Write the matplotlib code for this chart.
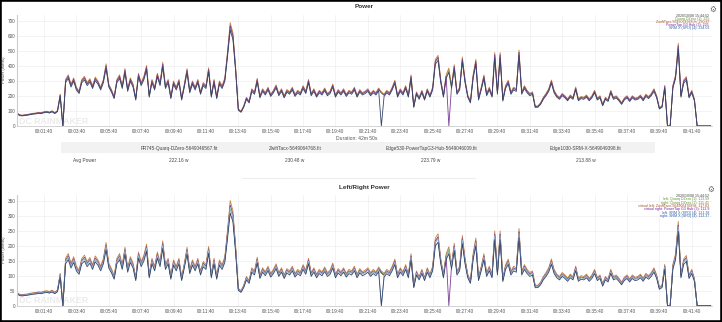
import numpy as np
import matplotlib
matplotlib.use('Agg')
import matplotlib.pyplot as plt
from matplotlib.patches import Rectangle

plt.rcParams['font.family'] = ['Liberation Sans', 'DejaVu Sans']

# Power, one value every 10 s (each row = one minute)
power_base = [
    85, 72, 70, 73, 75, 79,
    82, 84, 88, 86, 92, 95,
    90, 98, 86, 100, 205, 0,
    300, 330, 270, 310, 250, 225,
    300, 320, 280, 305, 260, 315,
    290, 250, 300, 400, 270, 235,
    190, 300, 330, 260, 370, 240,
    310, 270, 180, 340, 280, 320,
    390, 200, 300, 250, 340, 280,
    410, 260, 300, 190, 290, 250,
    300, 180, 270, 370, 230, 290,
    250, 300, 220, 280, 260, 375,
    200, 300, 190, 290, 260, 310,
    480, 665, 600, 380, 110, 95,
    130, 185, 160, 240, 220, 307,
    195, 240, 215, 250, 205, 230,
    265, 210, 240, 195, 235, 220,
    250, 205, 230, 215, 260, 225,
    300, 210, 240, 200, 230, 215,
    245, 210, 225, 270, 200, 235,
    215, 240, 205, 230, 220, 250,
    200, 235, 215, 225, 240, 210,
    230, 215, 245, 220, 205, 230,
    215, 250, 295, 200, 240, 215,
    260, 200, 329, 129, 220, 185,
    230, 180, 240, 200, 250, 429,
    455, 300, 200, 330, 373, 262,
    395, 220, 250, 444, 300, 200,
    160, 330, 429, 180, 250, 329,
    210, 250, 200, 473, 220, 473,
    173, 260, 295, 220, 250, 240,
    489, 220, 260, 230, 210, 220,
    129, 130, 150, 185, 210, 240,
    296, 230, 200, 185, 210, 195,
    175, 200, 185, 251, 175, 190,
    185, 200, 175, 195, 230, 180,
    195, 140, 185, 170, 230, 185,
    195, 175, 150, 180, 195, 170,
    195, 180, 185, 200, 175, 205,
    190, 210, 240, 195, 118, 130,
    262, 0, 0, 262, 329, 533,
    200, 296, 318, 195, 230, 173,
    0, 0, 0, 0, 0, 0,
]
step_s = 10

# devices (from the summary table)
files = ['FR745-Quarq-DZero-5649046567.fit', 'ZwiftTacx-5649064768.fit',
         'Edge530-PowerTapG3-Hub-5649046009.fit', 'Edge1030-SRM-X-5649049398.fit']
avg_power = [222.16, 230.48, 223.79, 213.88]
dev_colors = ['#7cb342', '#c8803c', '#7d3c98', '#34466a']
dev_dropouts = [[], [], [1600], [1350]]

legend_top = ['Quarq DZero (1): 225', 'ZwiftTacx-5649064768.fit: 230.87',
              'PowerTap G3 Hub (3): 225', 'SRM X (SPD) (4): 234.03']
legend_top_colors = ['#5f9a2c', '#a0522d', '#7b1fa2', '#2e5fa3']

# left/right channels: (device index, share of total)
lr_labels = ['left: Quarq DZero (1): 113.59', 'right: Quarq DZero (1): 111.41',
             'virtual left: ZwiftTacx-5649064768.fit: 117.83',
             'virtual right: PowerTap G3 Hub (3): 112.9',
             'left: SRM X (SPD) (4): 121.38', 'right: SRM X (SPD) (4): 113.37']
lr_device = [0, 0, 1, 2, 3, 3]
lr_share = [0.505, 0.495, 0.51, 0.502, 0.515, 0.485]
lr_colors = ['#7cb342', '#4f8a2a', '#c8803c', '#7d3c98', '#9dbbd6', '#34466a']
lr_text_colors = ['#5f9a2c', '#5f9a2c', '#a0522d', '#7b1fa2', '#2e5fa3', '#2e5fa3']

timestamp = '2020/10/08 15:44:52'
x_ticks = list(range(100, 2501, 120))
x_max = 2575

W, H = 722, 322
fig = plt.figure(figsize=(W / 100, H / 100), dpi=100)

t = np.arange(len(power_base)) * step_s
base = np.array(power_base, dtype=float)


def device_series(i):
    s = base * avg_power[i] / np.mean(avg_power)
    for d in dev_dropouts[i]:
        s[t == d] = 0
    return s


def fmt_time(s):
    return '%02d:%02d:%02d' % (s // 3600, (s % 3600) // 60, s % 60)


def fx(px):
    return px / W


def fy(py):
    return 1 - py / H


def style_axes(ax, ymax, ystep, label_y):
    ax.set_xlim(0, x_max)
    ax.set_ylim(0, ymax)
    ax.set_xticks(x_ticks)
    ax.set_xticklabels([fmt_time(v) for v in x_ticks])
    ax.set_yticks(np.arange(0, ymax, ystep))
    ax.tick_params(length=0, labelsize=3.4, colors='#555555', pad=2.5)
    ax.tick_params(axis='y', pad=1.2)
    ax.grid(True, color='#eeeeee', lw=0.5)
    ax.set_axisbelow(True)
    for sp in ['top', 'right']:
        ax.spines[sp].set_visible(False)
    ax.spines['left'].set_color('#cccccc')
    ax.spines['bottom'].set_color('#cccccc')
    ax.spines['left'].set_linewidth(0.8)
    ax.spines['bottom'].set_linewidth(0.6)
    fig.text(fx(3.6), fy(label_y), 'Power (watts)', rotation=90, ha='center',
             va='center', fontsize=3.2, color='#555555')
    ax.text(0.003, 0.02, 'DC RAINMAKER', transform=ax.transAxes, fontsize=6.3,
            fontweight='bold', color='#ebebeb', zorder=0)


# ---- top: Power ----
ax1 = fig.add_axes([fx(17), fy(126), fx(695), 111 / H])
style_axes(ax1, 740, 100, 70)
for i in range(len(files)):
    ax1.plot(t, device_series(i), color=dev_colors[i], lw=0.6)

fig.text(fx(364), fy(7), 'Power', ha='center', va='center', fontsize=4.6,
         fontweight='bold', color='#333333')
fig.text(fx(712.5), fy(9), '\u2699', ha='center', va='center', fontsize=5.5,
         color='#666666', family='DejaVu Sans')
fig.text(fx(709), fy(15.7), timestamp, ha='right', va='center', fontsize=2.6,
         color='#444444')
for k, (lab, c) in enumerate(zip(legend_top, legend_top_colors)):
    fig.text(fx(709), fy(18.9 + 3.2 * k), lab, ha='right', va='center',
             fontsize=2.6, color=c)
fig.text(fx(357), fy(138), 'Duration: 42m 50s', ha='center', va='center',
         fontsize=3.6, color='#555555')

# ---- summary table ----
fig.patches.append(Rectangle((fx(61), fy(153)), fx(594), 11 / H,
                             transform=fig.transFigure, color='#f2f2f2', lw=0))
col_x = [179, 295, 431, 586]
for cx, name, val in zip(col_x, files, avg_power):
    fig.text(fx(cx), fy(148), name, ha='center', va='center_baseline',
             fontsize=3.4, color='#444444')
    fig.text(fx(cx), fy(160), '%.2f w' % val, ha='center', va='center_baseline',
             fontsize=3.4, color='#444444')
fig.text(fx(85), fy(160), 'Avg Power', ha='center', va='center_baseline',
         fontsize=3.4, color='#444444')
fig.lines.append(plt.Line2D([fx(242), fx(475)], [fy(178), fy(178)],
                            transform=fig.transFigure, color='#eeeeee', lw=0.8))

# ---- bottom: Left/Right Power ----
ax2 = fig.add_axes([fx(17), fy(305.7), fx(695), 110.7 / H])
style_axes(ax2, 370, 50, 250)
for dev, share, c in zip(lr_device, lr_share, lr_colors):
    ax2.plot(t, device_series(dev) * share, color=c, lw=0.6)

fig.text(fx(364), fy(188), 'Left/Right Power', ha='center', va='center',
         fontsize=4.6, fontweight='bold', color='#333333')
fig.text(fx(710.7), fy(189), '\u2699', ha='center', va='center', fontsize=5.5,
         color='#666666', family='DejaVu Sans')
fig.text(fx(709), fy(196), timestamp, ha='right', va='center', fontsize=2.6,
         color='#444444')
for k, (lab, c) in enumerate(zip(lr_labels, lr_text_colors)):
    fig.text(fx(709), fy(199.3 + 3.35 * k), lab, ha='right', va='center',
             fontsize=2.6, color=c)

# black frame around the screenshot
fig.patches.append(Rectangle((0, 0), 1, 1, transform=fig.transFigure,
                             fill=False, ec='black', lw=2.6))

fig.savefig('out.png', dpi=100)
